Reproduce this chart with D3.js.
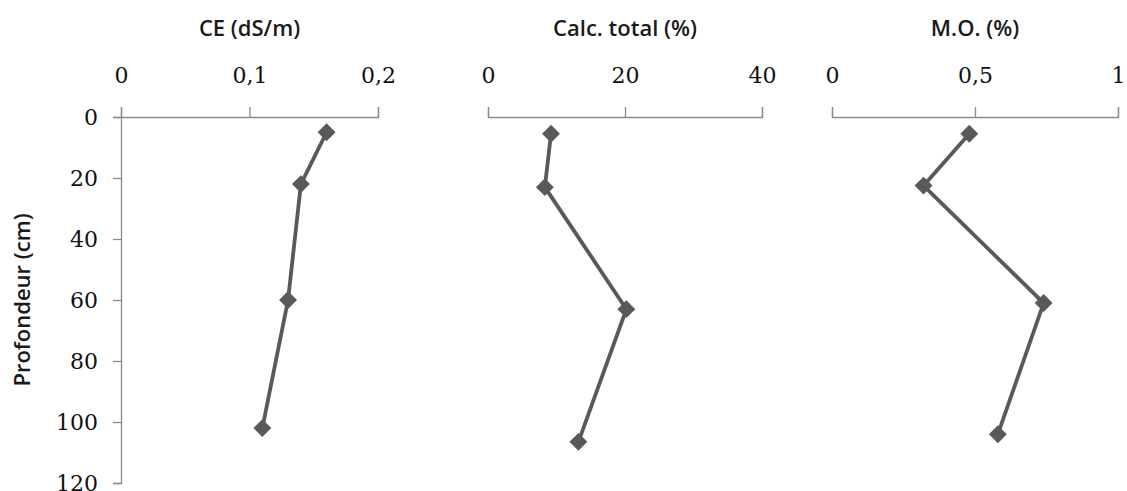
<!DOCTYPE html>
<html>
<head>
<meta charset="utf-8">
<script src="https://cdn.jsdelivr.net/npm/d3@7"></script>
<style>
  body { margin: 0; background: #fff; }
  .tick text { font-family: "DejaVu Serif", serif; font-size: 22px; fill: #111; }
  .domain, .tick line { stroke: #8a8a8a; stroke-width: 1.3; }
  .title { font-family: "Open Sans", sans-serif; font-weight: 600; font-size: 22px; fill: #1a1a1a; }
</style>
</head>
<body>
<div id="chart"></div>
<script>
// depth ticks (cm)
const depthTicks = [0, 20, 40, 60, 80, 100, 120];

// CE (dS/m)
const ceDepth = [5, 22, 60, 102];
const ceValues = [0.16, 0.14, 0.13, 0.11];
const ceTicks = [0, 0.1, 0.2];

// Calc. total (%)
const calcDepth = [5.5, 23, 63, 106.5];
const calcValues = [9.2, 8.3, 20.2, 13.2];
const calcTicks = [0, 20, 40];

// M.O. (%)
const moDepth = [5.5, 22.5, 61, 104];
const moValues = [0.48, 0.32, 0.74, 0.58];
const moTicks = [0, 0.5, 1];

const width = 1127;
const height = 491;

const svg = d3.select("#chart")
  .append("svg")
  .attr("width", width)
  .attr("height", height);

const y = d3.scaleLinear().domain([0, 120]).range([117, 483]);

const fmt = d => String(d).replace(".", ",");

const panels = [
  { title: "CE (dS/m)", depth: ceDepth, values: ceValues, ticks: ceTicks, range: [121, 378], yAxis: true },
  { title: "Calc. total (%)", depth: calcDepth, values: calcValues, ticks: calcTicks, range: [488, 762], yAxis: false },
  { title: "M.O. (%)", depth: moDepth, values: moValues, ticks: moTicks, range: [832, 1118], yAxis: false }
];

panels.forEach(p => {
  const x = d3.scaleLinear()
    .domain([p.ticks[0], p.ticks[p.ticks.length - 1]])
    .range(p.range);

  const g = svg.append("g");

  g.append("g")
    .attr("transform", `translate(0,${y(0)})`)
    .call(d3.axisTop(x).tickValues(p.ticks).tickFormat(fmt).tickSize(10).tickPadding(24));

  if (p.yAxis) {
    g.append("g")
      .attr("transform", `translate(${x(0)},0)`)
      .call(d3.axisLeft(y).tickValues(depthTicks).tickSize(8).tickPadding(15));
  }

  g.append("text")
    .attr("class", "title")
    .attr("x", (p.range[0] + p.range[1]) / 2)
    .attr("y", 36)
    .attr("text-anchor", "middle")
    .text(p.title);

  const pts = p.values.map((v, i) => [x(v), y(p.depth[i])]);

  g.append("path")
    .datum(pts)
    .attr("fill", "none")
    .attr("stroke", "#595959")
    .attr("stroke-width", 3.8)
    .attr("d", d3.line());

  g.selectAll(".pt")
    .data(pts)
    .join("path")
    .attr("class", "pt")
    .attr("transform", d => `translate(${d[0]},${d[1]}) rotate(45)`)
    .attr("d", d3.symbol(d3.symbolSquare, 160))
    .attr("fill", "#595959");
});

// y axis title
svg.append("text")
  .attr("class", "title")
  .attr("transform", "translate(30,300) rotate(-90)")
  .attr("text-anchor", "middle")
  .text("Profondeur (cm)");
</script>
</body>
</html>
